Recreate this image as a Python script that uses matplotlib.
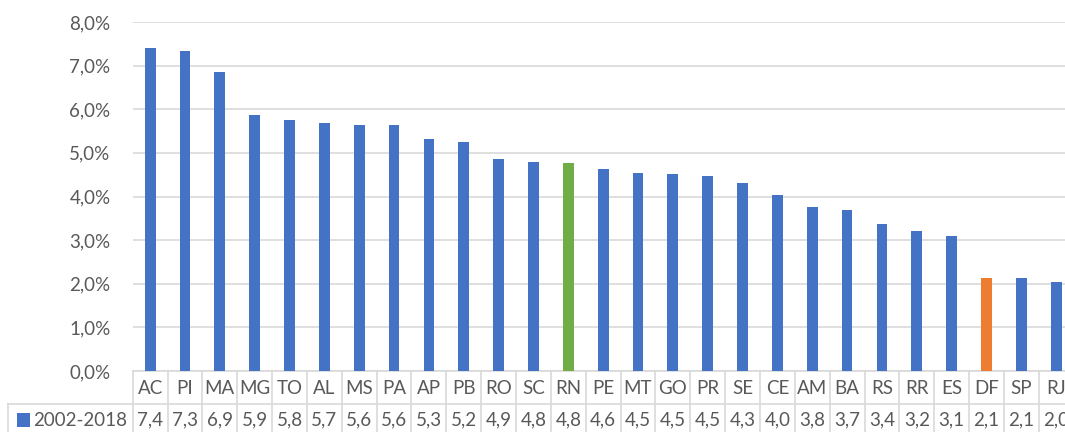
import matplotlib
matplotlib.use("Agg")
import matplotlib.pyplot as plt
import matplotlib.transforms as mtransforms
from matplotlib.patches import Rectangle
from matplotlib.ticker import FuncFormatter

# Average annual rate by state, 2002-2018 (percent)
states = ['AC', 'PI', 'MA', 'MG', 'TO', 'AL', 'MS', 'PA', 'AP', 'PB', 'RO', 'SC', 'RN',
          'PE', 'MT', 'GO', 'PR', 'SE', 'CE', 'AM', 'BA', 'RS', 'RR', 'ES', 'DF', 'SP', 'RJ']
rates = [7.41, 7.34, 6.86, 5.86, 5.76, 5.68, 5.64, 5.64, 5.31, 5.24, 4.87, 4.79, 4.76,
         4.63, 4.54, 4.51, 4.47, 4.30, 4.03, 3.76, 3.70, 3.38, 3.22, 3.10, 2.14, 2.13, 2.04]
series_name = '2002-2018'
highlight = {'RN': '#70AD47', 'DF': '#ED7D31'}

BLUE = '#4472C4'
GRID = '#D9D9D9'
TEXT = '#595959'
FS = 13.5
W, H = 1065, 432

plt.rcParams['font.family'] = ['Lato', 'DejaVu Sans']

fig = plt.figure(figsize=(W / 100, H / 100), dpi=100)
left, right, top, bottom = 132.7, 1073.6, 22, 371
ax = fig.add_axes([left / W, 1 - bottom / H, (right - left) / W, (bottom - top) / H])

colors = [highlight.get(s, BLUE) for s in states]
x = range(len(states))
ax.bar(x, [r / 100 for r in rates], width=0.31, color=colors, zorder=3)

ax.set_xlim(-0.5, len(states) - 0.5)
ax.set_ylim(0, 0.08)
ax.set_yticks([i / 100 for i in range(9)])
ax.yaxis.set_major_formatter(FuncFormatter(lambda v, _: f'{v * 100:.1f}%'.replace('.', ',')))
ax.tick_params(axis='y', length=0, pad=16, labelsize=FS, labelcolor=TEXT)
ax.set_xticks([])
ax.grid(axis='y', color=GRID, linewidth=1.2, zorder=0)
for sp in ax.spines.values():
    sp.set_visible(False)

# data table under the plot
def fy(py):
    return 1 - py / H

tr = mtransforms.blended_transform_factory(ax.transData, fig.transFigure)
row1_top, row2_top, table_bottom = 371, 404, 440
line_kw = dict(color=GRID, linewidth=1.2)

ax.plot([-0.5, len(states) - 0.5], [fy(row1_top)] * 2, transform=tr, clip_on=False, **line_kw)
ax.plot([-0.5, len(states) - 0.5], [fy(row2_top)] * 2, transform=tr, clip_on=False, **line_kw)
fig.add_artist(plt.Line2D([8 / W, left / W], [fy(row2_top)] * 2, **line_kw))
fig.add_artist(plt.Line2D([8 / W, 8 / W], [fy(row2_top), fy(table_bottom)], **line_kw))
for i in range(len(states) + 1):
    ax.plot([i - 0.5, i - 0.5], [fy(row1_top), fy(table_bottom)], transform=tr,
            clip_on=False, **line_kw)

for i, (s, r) in enumerate(zip(states, rates)):
    ax.text(i, fy(388), s, transform=tr, ha='center', va='center', fontsize=FS, color=TEXT)
    ax.text(i, fy(420), f'{r:.1f}'.replace('.', ','), transform=tr, ha='center', va='center',
            fontsize=FS, color=TEXT)

fig.add_artist(Rectangle((17 / W, fy(427)), 13 / W, 14 / H, transform=fig.transFigure,
                         facecolor=BLUE, edgecolor='none'))
fig.text(33 / W, fy(420), series_name, ha='left', va='center', fontsize=FS, color=TEXT)

fig.savefig('out.png', dpi=100)
